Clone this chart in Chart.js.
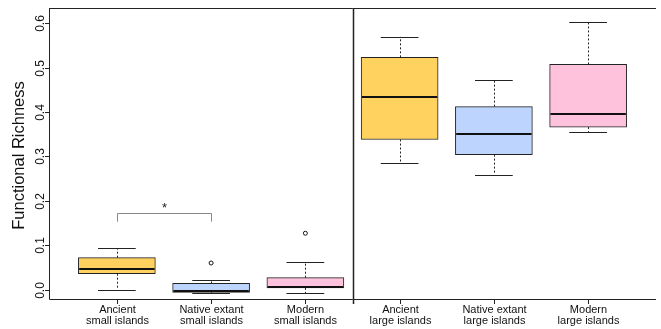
<!DOCTYPE html>
<html>
<head>
<meta charset="utf-8">
<script src="https://cdn.jsdelivr.net/npm/chart.js@4"></script>
<style>
  html, body { margin: 0; padding: 0; background: #fff; overflow: hidden; }
</style>
</head>
<body>
<canvas id="chart" width="661" height="329"></canvas>
<script>
// categories (two label lines each)
const categories = [
  ['Ancient', 'small islands'],
  ['Native extant', 'small islands'],
  ['Modern', 'small islands'],
  ['Ancient', 'large islands'],
  ['Native extant', 'large islands'],
  ['Modern', 'large islands'],
];
// box plot stats
const whiskerLow  = [0.000, -0.008, -0.008, 0.284, 0.259, 0.355];
const q1          = [0.036, -0.006,  0.004, 0.338, 0.304, 0.366];
const median      = [0.047, -0.003,  0.006, 0.434, 0.351, 0.395];
const q3          = [0.072,  0.014,  0.027, 0.523, 0.412, 0.507];
const whiskerHigh = [0.093,  0.021,  0.063, 0.569, 0.472, 0.602];
const outliers    = [[], [0.060], [0.127], [], [], []];
const yTicks = [0.0, 0.1, 0.2, 0.3, 0.4, 0.5, 0.6];
const yTitle = 'Functional Richness';
// significance bracket between groups 1 and 2
const bracket = { from: 1, to: 2, top: 0.173, leg: 0.153, label: '*' };
const boxColors = ['#FFD25F', '#BDD4FF', '#FFC2DD', '#FFD25F', '#BDD4FF', '#FFC2DD'];

const FONT = '"Liberation Sans", Arial, Helvetica, sans-serif';

const boxExtras = {
  id: 'boxExtras',
  afterDatasetsDraw(chart) {
    const { ctx, chartArea: a, scales: { x, y } } = chart;
    ctx.save();

    // whiskers, caps, medians
    categories.forEach((c, i) => {
      const cx = Math.round(x.getPixelForValue(i + 1)) + 0.5;
      const capL = x.getPixelForValue(i + 1 - 0.2);
      const capR = x.getPixelForValue(i + 1 + 0.2);
      const boxL = x.getPixelForValue(i + 1 - 0.4);
      const boxR = x.getPixelForValue(i + 1 + 0.4);

      ctx.strokeStyle = '#222';
      ctx.lineWidth = 1;
      ctx.setLineDash([2, 2]);
      ctx.beginPath();
      ctx.moveTo(cx, y.getPixelForValue(q3[i]));
      ctx.lineTo(cx, y.getPixelForValue(whiskerHigh[i]));
      ctx.moveTo(cx, y.getPixelForValue(q1[i]));
      ctx.lineTo(cx, y.getPixelForValue(whiskerLow[i]));
      ctx.stroke();
      ctx.setLineDash([]);

      ctx.beginPath();
      let yy = Math.round(y.getPixelForValue(whiskerHigh[i])) + 0.5;
      ctx.moveTo(capL, yy); ctx.lineTo(capR, yy);
      yy = Math.round(y.getPixelForValue(whiskerLow[i])) + 0.5;
      ctx.moveTo(capL, yy); ctx.lineTo(capR, yy);
      ctx.stroke();

      ctx.lineWidth = 2;
      ctx.strokeStyle = '#111';
      ctx.beginPath();
      yy = Math.round(y.getPixelForValue(median[i]));
      ctx.moveTo(boxL, yy); ctx.lineTo(boxR, yy);
      ctx.stroke();
    });

    // frame: left, top, bottom and the divider
    ctx.strokeStyle = '#222';
    ctx.lineWidth = 1;
    ctx.beginPath();
    ctx.moveTo(a.left + 0.5, a.top + 0.5);
    ctx.lineTo(a.right, a.top + 0.5);
    ctx.moveTo(a.left + 0.5, a.top);
    ctx.lineTo(a.left + 0.5, a.bottom + 0.5);
    ctx.lineTo(a.right, a.bottom + 0.5);
    ctx.stroke();

    const dx = Math.round(x.getPixelForValue(3.5)) + 0.5;
    ctx.lineWidth = 1.5;
    ctx.beginPath();
    ctx.moveTo(dx, a.top);
    ctx.lineTo(dx, a.bottom + 5);
    ctx.stroke();

    // x ticks and labels
    ctx.lineWidth = 1;
    ctx.fillStyle = '#111';
    ctx.font = '11px ' + FONT;
    ctx.textAlign = 'center';
    ctx.textBaseline = 'alphabetic';
    categories.forEach((c, i) => {
      const cx = Math.round(x.getPixelForValue(i + 1)) + 0.5;
      ctx.beginPath();
      ctx.moveTo(cx, a.bottom);
      ctx.lineTo(cx, a.bottom + 5);
      ctx.stroke();
      ctx.fillText(c[0], cx, a.bottom + 14);
      ctx.fillText(c[1], cx, a.bottom + 25);
    });

    // y ticks and rotated labels
    ctx.font = '12px ' + FONT;
    yTicks.forEach(v => {
      const py = Math.round(y.getPixelForValue(v)) + 0.5;
      ctx.beginPath();
      ctx.moveTo(a.left - 4, py);
      ctx.lineTo(a.left, py);
      ctx.stroke();
      ctx.save();
      ctx.translate(a.left - 5, py);
      ctx.rotate(-Math.PI / 2);
      ctx.fillText(v.toFixed(1), 0, 0);
      ctx.restore();
    });

    // axis title
    ctx.save();
    ctx.font = '16.5px ' + FONT;
    ctx.translate(24, (a.top + a.bottom) / 2 + 2);
    ctx.rotate(-Math.PI / 2);
    ctx.fillText(yTitle, 0, 0);
    ctx.restore();

    // significance bracket
    const bl = Math.round(x.getPixelForValue(bracket.from)) + 0.5;
    const br = Math.round(x.getPixelForValue(bracket.to)) + 0.5;
    const bt = Math.round(y.getPixelForValue(bracket.top)) + 0.5;
    const bb = y.getPixelForValue(bracket.leg);
    ctx.strokeStyle = '#888';
    ctx.beginPath();
    ctx.moveTo(bl, bb); ctx.lineTo(bl, bt); ctx.lineTo(br, bt); ctx.lineTo(br, bb);
    ctx.stroke();
    ctx.font = '13px ' + FONT;
    ctx.fillStyle = '#222';
    ctx.fillText(bracket.label, (bl + br) / 2, bt - 2);

    ctx.restore();
  }
};

new Chart(document.getElementById('chart'), {
  type: 'bar',
  data: {
    datasets: [
      {
        type: 'bar',
        data: categories.map((c, i) => ({ x: i + 1, y: [q1[i], q3[i]] })),
        backgroundColor: boxColors,
        borderColor: '#222',
        borderWidth: 1,
        borderSkipped: false,
        barThickness: 77,
        grouped: false,
      },
      {
        type: 'scatter',
        data: outliers.flatMap((list, i) => list.map(v => ({ x: i + 1, y: v }))),
        pointStyle: 'circle',
        pointRadius: 2,
        borderColor: '#111',
        borderWidth: 1,
        backgroundColor: 'rgba(0,0,0,0)',
      },
    ],
  },
  options: {
    responsive: false,
    animation: false,
    events: [],
    layout: { padding: { left: 49, top: 8, right: 0, bottom: 30 } },
    plugins: { legend: { display: false }, tooltip: { enabled: false } },
    scales: {
      x: { type: 'linear', min: 0.28, max: 6.72, offset: false, display: false },
      y: { type: 'linear', min: -0.021, max: 0.634, display: false },
    },
  },
  plugins: [boxExtras],
});
</script>
</body>
</html>
